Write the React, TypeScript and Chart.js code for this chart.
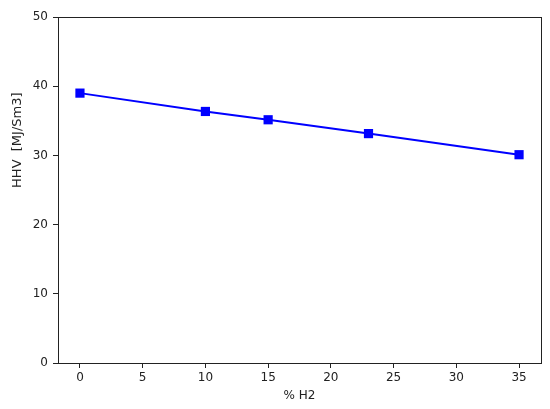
import React, { useEffect, useRef } from "react";
import { Chart, registerables } from "chart.js";

Chart.register(...registerables);

const h2Percent = [0, 10, 15, 23, 35];
const hhvValues = [39.0, 36.35, 35.15, 33.15, 30.1];
const seriesLabel = "HHV";
const xTitle = "% H2";
const yTitle = "HHV  [MJ/Sm3]";

const frameBox = {
  id: "frameBox",
  afterDraw(chart: any) {
    const { ctx, chartArea } = chart;
    ctx.save();
    ctx.strokeStyle = "#222";
    ctx.lineWidth = 1;
    ctx.strokeRect(
      Math.round(chartArea.left) + 0.5,
      Math.round(chartArea.top) + 0.5,
      Math.round(chartArea.right - chartArea.left),
      Math.round(chartArea.bottom - chartArea.top)
    );
    // y-axis title, placed as in the reference (above the axis centre)
    const cy = chartArea.top + (chartArea.bottom - chartArea.top) * 0.356;
    ctx.translate(18, cy);
    ctx.rotate(-Math.PI / 2);
    ctx.fillStyle = "#222";
    ctx.font = "13px 'DejaVu Sans'";
    ctx.textAlign = "center";
    ctx.textBaseline = "middle";
    ctx.fillText(yTitle, 0, 0);
    ctx.restore();
  },
};

export default function App() {
  const ref = useRef<HTMLCanvasElement>(null);
  useEffect(() => {
    if (!ref.current) return;
    const font = { family: "DejaVu Sans", size: 12 };
    const chart = new Chart(ref.current, {
      type: "line",
      data: {
        datasets: [
          {
            label: seriesLabel,
            data: h2Percent.map((x, i) => ({ x, y: hhvValues[i] })),
            borderColor: "#0000ff",
            backgroundColor: "#0000ff",
            borderWidth: 2,
            pointStyle: "rect",
            pointRadius: 6.5,
            pointHoverRadius: 6.5,
            pointBorderWidth: 0,
            tension: 0,
          },
        ],
      },
      options: {
        responsive: false,
        animation: false,
        layout: { padding: { top: 17, right: 9, left: 0, bottom: 0 } },
        plugins: { legend: { display: false }, tooltip: { enabled: false } },
        scales: {
          x: {
            type: "linear",
            min: -1.75,
            max: 36.75,
            afterFit: (s: any) => {
              s.height = 46;
            },
            ticks: {
              stepSize: 5,
              includeBounds: false,
              color: "#222",
              font,
              padding: 3,
              maxRotation: 0,
            },
            grid: {
              drawOnChartArea: false,
              tickLength: 5,
              color: "#222",
            },
            border: { color: "#222", width: 1 },
            title: {
              display: true,
              text: xTitle,
              color: "#222",
              font,
              padding: { top: 0, bottom: 6 },
            },
          },
          y: {
            type: "linear",
            min: 0,
            max: 50,
            afterFit: (s: any) => {
              s.width = 58;
            },
            ticks: {
              stepSize: 10,
              color: "#222",
              font,
              padding: 5,
            },
            grid: {
              drawOnChartArea: false,
              tickLength: 5,
              color: "#222",
            },
            border: { color: "#222", width: 1 },
            title: { display: false },
          },
        },
      },
      plugins: [frameBox],
    });
    return () => chart.destroy();
  }, []);
  return (
    <div style={{ position: "absolute", left: 0, top: 0, width: 550, height: 409, background: "#fff" }}>
      <canvas ref={ref} width={550} height={409} />
    </div>
  );
}
